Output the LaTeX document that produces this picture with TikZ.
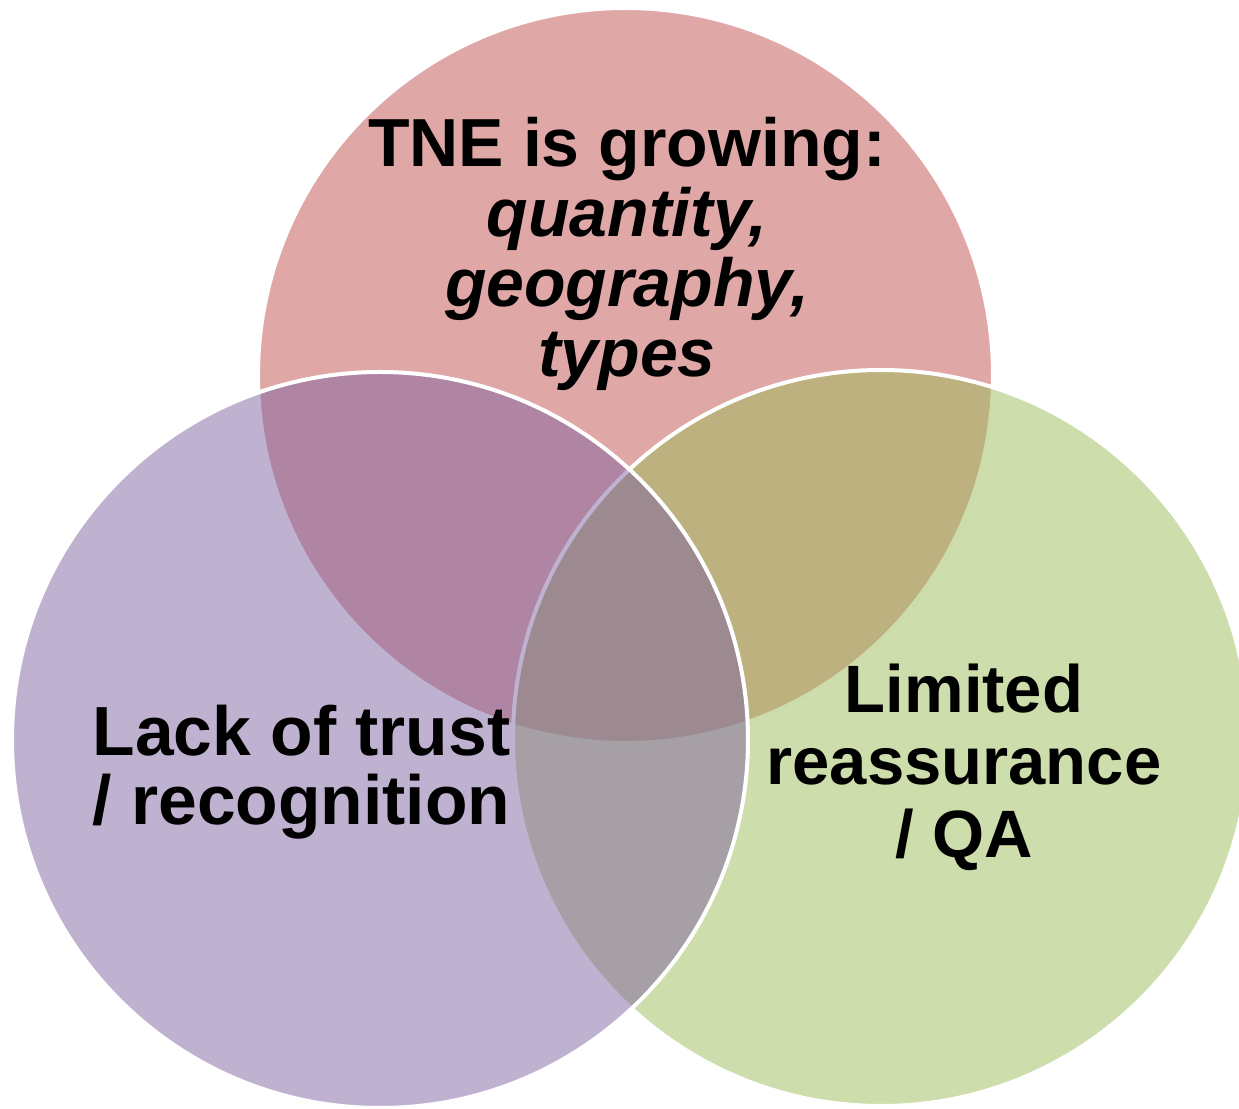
\documentclass[tikz,border=0pt]{standalone}
\usepackage{fontspec}
\setmainfont{Liberation Sans}
\definecolor{tnered}{HTML}{C0504D}
\definecolor{trustpurple}{HTML}{8064A2}
\definecolor{qagreen}{HTML}{9BBB59}
\begin{document}
\begin{tikzpicture}[x=0.5pt,y=0.5pt,
        ring/.style={fill=#1,fill opacity=0.5,draw=white,line width=2pt},
        venntext/.style 2 args={align=center,inner sep=0pt,font=\bfseries\fontsize{#1}{#2}\selectfont}]
        \useasboundingbox (0,0) rectangle (1239,1109);
        % the three sets (purple last, it lies on top)
        \draw[ring=tnered] (625.5,733.5) circle (183.75pt);
        \draw[ring=qagreen] (881,371) circle (184pt);
        \draw[ring=trustpurple] (380,369) circle (184pt);
        % texts
        \node[venntext={34}{35}] (growing) at (627,855) {TNE is growing:\\ \itshape quantity,\\ \itshape geography,\\ \itshape types};
        \node[venntext={34.8}{34.5}] (trust) at (301.5,337) {Lack of trust\\ / recognition};
        \node[venntext={33.5}{36.2}] (reassure) at (964,342) {Limited\\ reassurance\\ / QA};
\end{tikzpicture}
\end{document}
